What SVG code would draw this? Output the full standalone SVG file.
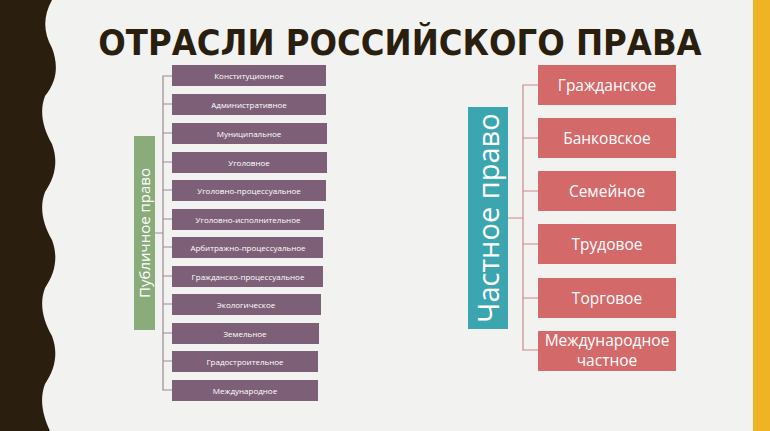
<svg xmlns="http://www.w3.org/2000/svg" width="770" height="431" viewBox="0 0 770 431">
<style>
.l{fill:#7e5f78}
.lt{fill:#fff;font-family:"Open Sans","DejaVu Sans",sans-serif;font-size:8px;text-anchor:middle}
.r{fill:#d4696a}
.rt{fill:#fff;font-family:"Open Sans","DejaVu Sans",sans-serif;font-size:15.5px;text-anchor:middle}
.c{stroke:#9a8a94;stroke-width:1.2;fill:none}
.cr{stroke:#c98a8a;stroke-width:1.2;fill:none}
</style>
<rect width="770" height="431" fill="#f2f2f0"/>
<path d="M0 0H52C43 16 43 32 52 48C58 64 58 80 45 96C39 112 43 128 52 144C58 160 56 176 45 192C39 208 43 224 52 240C58 256 56 272 45 288C39 304 43 320 52 336C58 352 56 368 45 384C39 400 43 416 50 431H0Z" fill="#2a1f0f"/>
<rect x="753" y="0" width="17" height="431" fill="#f0b323"/>
<text x="400" y="55" font-family="'DejaVu Sans Condensed','DejaVu Sans',sans-serif" font-weight="bold" font-size="36" text-anchor="middle" fill="#2a1f0f">ОТРАСЛИ РОССИЙСКОГО ПРАВА</text>
<g id="connectors">
<path class="c" d="M155 233H163M172 76H163V390H172M163 104H172M163 133H172M163 162H172M163 190H172M163 219H172M163 247H172M163 276H172M163 304H172M163 333H172M163 361H172"/>
<path class="cr" d="M508 218H523M538 85H523V350H538M523 138H538M523 191H538M523 244H538M523 298H538"/>
</g>
<g id="public"><rect x="134" y="136" width="21" height="194" fill="#8aab7a"/><text transform="translate(150 233) rotate(-90)" fill="#fff" font-family="'Open Sans','DejaVu Sans',sans-serif" font-size="15" text-anchor="middle">Публичное право</text></g>
<g id="n1"><rect class="l" x="172" y="65" width="154" height="21"/><text class="lt" x="249" y="79">Конституционное</text></g>
<g id="n2"><rect class="l" x="172" y="94" width="154" height="21"/><text class="lt" x="249" y="108">Административное</text></g>
<g id="n3"><rect class="l" x="172" y="123" width="155" height="21"/><text class="lt" x="249" y="137">Муниципальное</text></g>
<g id="n4"><rect class="l" x="172" y="152" width="155" height="21"/><text class="lt" x="249" y="166">Уголовное</text></g>
<g id="n5"><rect class="l" x="172" y="180" width="154" height="21"/><text class="lt" x="249" y="194">Уголовно-процессуальное</text></g>
<g id="n6"><rect class="l" x="172" y="209" width="152" height="21"/><text class="lt" x="248" y="223">Уголовно-исполнительное</text></g>
<g id="n7"><rect class="l" x="172" y="237" width="151" height="21"/><text class="lt" x="248" y="251">Арбитражно-процессуальное</text></g>
<g id="n8"><rect class="l" x="172" y="266" width="151" height="21"/><text class="lt" x="248" y="280">Гражданско-процессуальное</text></g>
<g id="n9"><rect class="l" x="172" y="294" width="149" height="21"/><text class="lt" x="246" y="308">Экологическое</text></g>
<g id="n10"><rect class="l" x="172" y="323" width="147" height="21"/><text class="lt" x="245" y="337">Земельное</text></g>
<g id="n11"><rect class="l" x="172" y="351" width="146" height="21"/><text class="lt" x="245" y="365">Градостроительное</text></g>
<g id="n12"><rect class="l" x="172" y="380" width="146" height="21"/><text class="lt" x="245" y="394">Международное</text></g>
<g id="private"><rect x="468" y="107" width="40" height="222" fill="#3ba5b0"/><text transform="translate(499 218) rotate(-90)" fill="#fff" font-family="'Open Sans','DejaVu Sans',sans-serif" font-size="29" text-anchor="middle">Частное право</text></g>
<g id="r1"><rect class="r" x="538" y="65" width="138" height="40"/><text class="rt" x="607" y="91">Гражданское</text></g>
<g id="r2"><rect class="r" x="538" y="118" width="138" height="40"/><text class="rt" x="607" y="144">Банковское</text></g>
<g id="r3"><rect class="r" x="538" y="171" width="138" height="40"/><text class="rt" x="607" y="197">Семейное</text></g>
<g id="r4"><rect class="r" x="538" y="224" width="138" height="40"/><text class="rt" x="607" y="250">Трудовое</text></g>
<g id="r5"><rect class="r" x="538" y="278" width="138" height="40"/><text class="rt" x="607" y="304">Торговое</text></g>
<g id="r6"><rect class="r" x="538" y="331" width="138" height="40"/><text class="rt" x="607" y="346" font-size="15">Международное</text><text class="rt" x="607" y="366" font-size="15">частное</text></g>
</svg>
